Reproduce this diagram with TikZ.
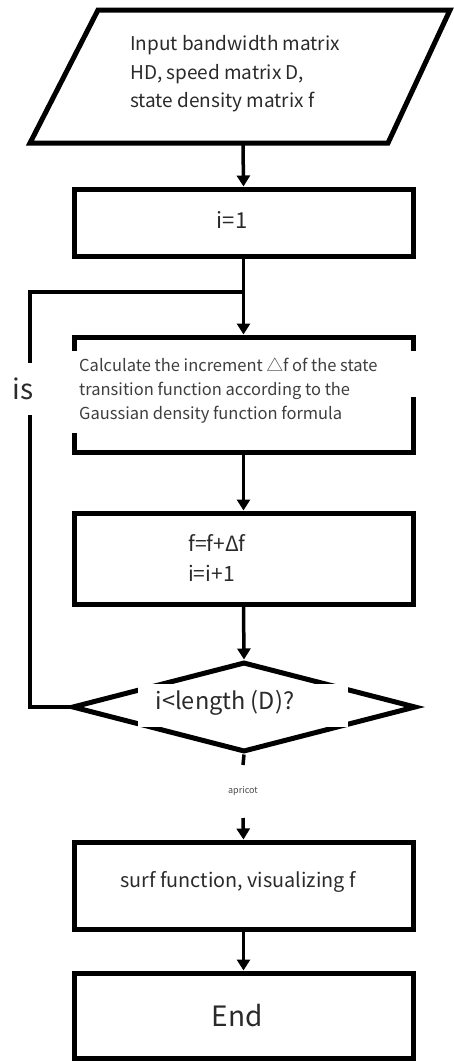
\documentclass[tikz,border=0pt]{standalone}
\usepackage{fontspec}
\setmainfont{Noto Sans CJK SC}
\usetikzlibrary{arrows.meta,shapes.geometric}
\definecolor{ink}{HTML}{2A2A2A}
\begin{document}
\begin{tikzpicture}[x=1pt,y=-1pt,
  box/.style={draw=black,line width=5pt,rectangle,minimum width=339pt,inner sep=0pt},
  lbl/.style={text=ink,inner sep=0pt},
  flow/.style={line width=3.5pt,-{Triangle[width=13pt,length=11pt]}},
  wire/.style={line width=3.5pt}]
\useasboundingbox (0,0) rectangle (453,1063);

% input parallelogram
\draw[line width=5pt,line join=miter] (98,10) -- (450,10) -- (388,143) -- (30,143) -- cycle;
\coordinate (inBottom) at (243,143);
\node[lbl,anchor=west,align=left,font=\fontsize{19}{28.5}\selectfont] (input) at (130,74)
  {Input bandwidth matrix\\HD, speed matrix D,\\state density matrix f};

% process boxes
\node[box,minimum height=67pt] (init) at (243.5,222.5) {};
\node[lbl,font=\fontsize{22}{26}\selectfont] (initT) at (232,220) {i=1};

\node[box,minimum height=115pt] (calc) at (243.5,394.5) {};
\fill[white] (68,351) rectangle (419,397);
\fill[white] (68,397) rectangle (405,433);
\node[lbl,anchor=west,align=left,font=\fontsize{16.5}{24}\selectfont,text=ink!90] (calcT) at (79,391)
  {Calculate the increment △f of the state\\transition function according to the\\Gaussian density function formula};

\node[box,minimum height=91pt] (upd) at (243.5,558.5) {};
\node[lbl,anchor=west,align=left,font=\fontsize{21}{30}\selectfont] (updT) at (188,558)
  {f=f+Δf\\i=i+1};

% decision
\node[draw=black,line width=5pt,diamond,minimum width=344pt,minimum height=90pt,inner sep=0pt] (dec) at (244,707) {};
\fill[white] (138,684) rectangle (348,727);
\node[lbl,font=\fontsize{23.5}{26}\selectfont] (decT) at (225,703) {i<length (D)?};

\node[box,minimum height=87pt] (surf) at (243.5,885.5) {};
\node[lbl,font=\fontsize{19.8}{22}\selectfont] (surfT) at (238,882) {surf function, visualizing f};

\node[box,minimum height=85pt] (end) at (243.5,1015.5) {};
\node[lbl,font=\fontsize{28}{30}\selectfont] (endT) at (237,1016) {End};

% connectors
\coordinate (join) at (243,292);
\coordinate (loopTop) at (30,292);
\coordinate (stubEnd) at (243,765);
\coordinate (resume) at (243,818);

\draw[flow] (inBottom) -- (init.north);
\draw[flow] (init.south) -- (calc.north);
\draw[flow] (calc.south) -- (upd.north);
\draw[flow] (upd.south) -- (dec.north);
\draw[wire,line join=miter] (dec.west) -| (loopTop) -- (join);
\draw[wire] (dec.south) -- (stubEnd);
\draw[flow] (resume) -- (surf.north);
\draw[flow] (surf.south) -- (end.north);

% labels on connectors
\node[lbl,fill=white,minimum height=52pt,minimum width=14pt,font=\fontsize{28}{30}\selectfont] (yes) at (23,389) {is};
\node[lbl,font=\fontsize{9}{10}\selectfont,text=ink!85] (no) at (243,791) {apricot};
\end{tikzpicture}
\end{document}
